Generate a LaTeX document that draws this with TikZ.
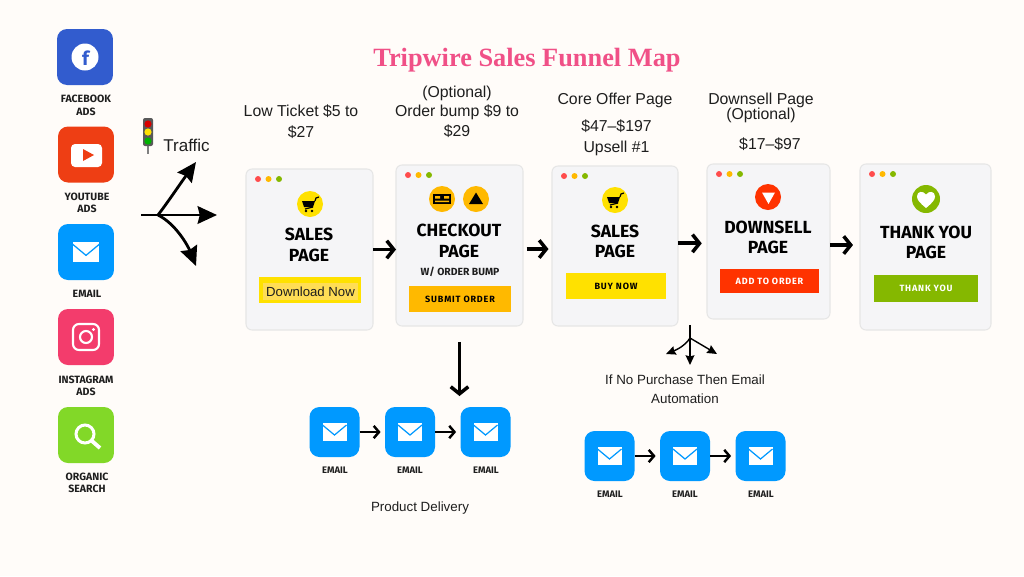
\documentclass[tikz,border=0pt]{standalone}
\usepackage{fontspec}
\usetikzlibrary{arrows.meta}
\setmainfont{Liberation Sans}
\newfontfamily\headfont{Fira Sans}
\newfontfamily\btnfont[LetterSpace=9]{Fira Sans}
\newfontfamily\titlefont{Liberation Serif}
\definecolor{paper}{RGB}{255,252,249}
\definecolor{cardgray}{RGB}{245,245,247}
\definecolor{cardline}{RGB}{230,230,230}
\definecolor{funnelpink}{RGB}{240,80,135}
\definecolor{fbblue}{RGB}{50,92,206}
\definecolor{ytred}{RGB}{238,62,20}
\definecolor{mailblue}{RGB}{0,153,255}
\definecolor{igpink}{RGB}{243,60,108}
\definecolor{searchgreen}{RGB}{130,216,40}
\definecolor{buyyellow}{RGB}{255,225,0}
\definecolor{softyellow}{RGB}{255,221,85}
\definecolor{bumporange}{RGB}{255,185,0}
\definecolor{addred}{RGB}{255,51,0}
\definecolor{thankgreen}{RGB}{133,184,0}
\definecolor{inkblack}{RGB}{30,30,30}
\tikzset{
  tile/.style={rectangle,rounded corners=0.2cm,minimum size=1cm,inner sep=0,outer sep=0},
  bigtile/.style={tile,minimum size=1.12cm},
  tag/.style={font=\headfont\bfseries\fontsize{6}{7.2}\selectfont,align=center,text=inkblack,inner sep=0},
  smalltag/.style={tag,font=\headfont\bfseries\fontsize{5.4}{6}\selectfont},
  card/.style={draw=cardline,line width=0.6pt,fill=cardgray,rectangle,rounded corners=0.12cm,inner sep=0,outer sep=0},
  cardtitle/.style={font=\headfont\bfseries\fontsize{10}{11.6}\selectfont,align=center,text=black,inner sep=0},
  btn/.style={rectangle,inner sep=0,outer sep=0,font=\btnfont\bfseries\fontsize{5.15}{6}\selectfont},
  note/.style={font=\fontsize{9}{12}\selectfont,align=center,text=inkblack,inner sep=0},
  smallnote/.style={font=\fontsize{7.6}{10.8}\selectfont,align=center,text=inkblack,inner sep=0},
  badge/.style={circle,minimum size=0.52cm,inner sep=0,outer sep=0},
  flowarrow/.style={line width=2.2pt,-{Straight Barb[length=4pt,width=10pt,line width=2pt]}},
  mailarrow/.style={line width=1.5pt,black,-{Straight Barb[length=3pt,width=7pt,line width=1.4pt]}},
  forkarrow/.style={line width=1.6pt,black,-{Stealth[length=11pt,width=10pt,inset=1.2pt]}},
  thinfork/.style={line width=0.8pt,black,-{Stealth[length=5.5pt,width=5pt,inset=0.6pt]}},
  windowdots/.pic={
    \fill[red!70!white] (12,10) circle (3);
    \fill[bumporange] (22.5,10) circle (3);
    \fill[thankgreen] (33,10) circle (3);
  },
  mailglyph/.pic={
    \fill[white] (-12,-9) rectangle (12,9);
    \draw[mailblue,line width=0.7pt] (-12,-7) -- (0,3) -- (12,-7);
  },
  cartglyph/.pic={
    \fill[black] (-8,-3) -- (5,-3) -- (3,3) -- (-6,3) -- cycle;
    \draw[black,line width=0.7pt] (3,3) -- (-5,5) (5,-3) -- (6,-6) -- (9,-7);
    \fill[black] (-4,7) circle (1.4) (2,7) circle (1.4);
  },
}
\begin{document}
\begin{tikzpicture}[x=0.02cm,y=-0.02cm]
\useasboundingbox (0,0) rectangle (1024,576);
\fill[paper] (0,0) rectangle (1024,576);
\node[inner sep=0,font=\titlefont\bfseries\fontsize{15}{18}\selectfont,text=funnelpink] (title) at (527,60) {Tripwire Sales Funnel Map};

% traffic sources
\node[bigtile,fill=fbblue] (facebook) at (85,57) {};
\fill[white] (facebook) circle (13.5);
\node[inner sep=0,font=\headfont\bfseries\fontsize{11}{12}\selectfont,text=fbblue] (fbmark) at (85.5,58) {f};
\node[tag] (facebooktag) at (86,105.5) {FACEBOOK\\ADS};
\node[bigtile,fill=ytred] (youtube) at (86,154.5) {};
\fill[white,rounded corners=0.08cm] (71,144) rectangle (102,167);
\fill[ytred] (83,149) -- (83,161) -- (94,155) -- cycle;
\node[tag] (youtubetag) at (87,203) {YOUTUBE\\ADS};
\node[bigtile,fill=mailblue] (mailsource) at (86,252) {};
\pic[scale=1.12] at (mailsource) {mailglyph};
\node[tag] (mailtag) at (87,294) {EMAIL};
\node[bigtile,fill=igpink] (instagram) at (86,337) {};
\draw[white,line width=1.2pt,rounded corners=0.12cm] (73,324) rectangle (99,350);
\draw[white,line width=1.2pt] (instagram) circle (6);
\fill[white] (93.5,329.5) circle (1.6);
\node[tag] (instagramtag) at (86,386) {INSTAGRAM\\ADS};
\node[bigtile,fill=searchgreen] (organic) at (86,435) {};
\draw[white,line width=1.7pt] (85,434) circle (9);
\draw[white,line width=2.2pt] (92,441) -- (100,448);
\node[tag] (organictag) at (87,483) {ORGANIC\\SEARCH};

% traffic light
\draw[gray,line width=1pt] (148,140) -- (148,154);
\fill[gray!70!black,rounded corners=0.04cm] (143,118) rectangle (153,146);
\fill[red!85!black] (148,124) circle (3.6);
\fill[yellow!85!orange] (148,132) circle (3.6);
\fill[green!70!black] (148,141) circle (3.6);
\node[note,font=\fontsize{9.7}{12}\selectfont,anchor=west] (traffic) at (163,145) {Traffic};
\coordinate (forkstart) at (141,215);
\coordinate (forkroot) at (158,215);
\coordinate (forkup) at (196,162);
\coordinate (forkmid) at (217,215);
\coordinate (forkdown) at (196,266);
\draw[line width=1.6pt,black] (forkstart) -- (forkroot);
\draw[forkarrow] (forkroot) .. controls (168,202) and (180,184) .. (forkup);
\draw[forkarrow] (forkroot) -- (forkmid);
\draw[forkarrow] (forkroot) .. controls (176,224) and (188,246) .. (forkdown);

% pages
\node[card,minimum width=2.54cm,minimum height=3.22cm] (page1) at (309.5,249.5) {};
\pic at (page1.north west) {windowdots};
\node[badge,fill=buyyellow] (cart1) at (310,204) {};
\pic at (cart1) {cartglyph};
\node[cardtitle] (title1) at (309,245) {SALES\\PAGE};
\node[btn,fill=buyyellow,minimum width=2.04cm,minimum height=0.52cm] (button1) at (310,290) {};
\node[rectangle,inner sep=0,fill=softyellow,minimum width=1.9cm,minimum height=0.34cm,font=\fontsize{7.5}{10}\selectfont,text=inkblack] (download) at (310.5,291.5) {Download Now};

\node[card,minimum width=2.54cm,minimum height=3.22cm] (page2) at (459.5,245.5) {};
\pic at (page2.north west) {windowdots};
\node[badge,fill=bumporange] (bumpcard) at (442,199) {};
\fill[black] (433,194) rectangle (451,204);
\fill[bumporange] (435,196) rectangle (440,198.5) (444,196) rectangle (449,198.5) (435,200.5) rectangle (449,202);
\node[badge,fill=bumporange] (bumptri) at (476,199) {};
\fill[black] (476,192.5) -- (483,204) -- (469,204) -- cycle;
\node[cardtitle] (title2) at (459,241) {CHECKOUT\\PAGE};
\node[tag,font=\headfont\bfseries\fontsize{5.9}{7}\selectfont] (bump) at (460,272) {W/ ORDER BUMP};
\node[btn,fill=bumporange,text=black,minimum width=2.04cm,minimum height=0.52cm] (button2) at (460,299) {SUBMIT ORDER};

\node[card,minimum width=2.52cm,minimum height=3.2cm] (page3) at (615,246) {};
\pic at (page3.north west) {windowdots};
\node[badge,fill=buyyellow] (cart3) at (615,200) {};
\pic at (cart3) {cartglyph};
\node[cardtitle] (title3) at (615,241.5) {SALES\\PAGE};
\node[btn,fill=buyyellow,text=black,minimum width=2cm,minimum height=0.52cm] (button3) at (616,286) {BUY NOW};

\node[card,minimum width=2.46cm,minimum height=3.1cm] (page4) at (768.5,241.5) {};
\pic at (page4.north west) {windowdots};
\node[badge,fill=addred] (downbadge) at (768,197) {};
\fill[white] (762,192.5) -- (775,192.5) -- (768.5,204) -- cycle;
\node[cardtitle] (title4) at (768,237.5) {DOWNSELL\\PAGE};
\node[btn,fill=addred,text=white,minimum width=1.98cm,minimum height=0.48cm] (button4) at (769.5,281) {ADD TO ORDER};

\node[card,minimum width=2.62cm,minimum height=3.32cm] (page5) at (925.5,247) {};
\pic at (page5.north west) {windowdots};
\node[badge,fill=thankgreen,minimum size=0.56cm] (heartbadge) at (926,199) {};
\fill[white] (926,208) .. controls (920,203) and (917,200) .. (917,196.5) .. controls (917,191) and (923,190.5) .. (926,194.5) .. controls (929,190.5) and (935,191) .. (935,196.5) .. controls (935,200) and (932,203) .. (926,208);
\node[cardtitle] (title5) at (926,242.5) {THANK YOU\\PAGE};
\node[btn,fill=thankgreen,text=white,minimum width=2.08cm,minimum height=0.54cm] (button5) at (926,288.5) {THANK YOU};

\draw[flowarrow] (page1.east) -- (page1.east -| page2.west);
\draw[flowarrow,shorten >=2pt,shorten <=2pt] ([yshift=-2pt]page2.east) -- ([yshift=-2pt]page2.east -| page3.west);
\draw[flowarrow,shorten >=3pt] ([yshift=1.5pt]page3.east) -- ([yshift=1.5pt]page3.east -| page4.west);
\draw[flowarrow,shorten >=4pt] ([yshift=-2pt]page4.east) -- ([yshift=-2pt]page4.east -| page5.west);

% price notes
\node[note] (price1) at (301,121.5) {Low Ticket \$5 to\\\$27};
\node[note,font=\fontsize{9}{11.2}\selectfont] (price2) at (457,111.5) {(Optional)\\Order bump \$9 to\\\$29};
\node[note] (price3) at (615,100) {Core Offer Page};
\node[note] (price3b) at (616.5,138) {\$47--\$197\\Upsell \#1};
\node[note,font=\fontsize{9}{8.6}\selectfont] (price4) at (761,107.5) {Downsell Page\\(Optional)};
\node[note] (price4b) at (770,144) {\$17--\$97};

% delivery emails
\coordinate (dropend) at (459.5,396);
\draw[flowarrow,shorten <=9pt] (page2.south) -- (dropend);
\node[tile,fill=mailblue] (maila) at (334.5,432) {};
\pic at (maila) {mailglyph};
\node[tile,fill=mailblue] (mailb) at (410,432) {};
\pic at (mailb) {mailglyph};
\node[tile,fill=mailblue] (mailc) at (485.5,432) {};
\pic at (mailc) {mailglyph};
\draw[mailarrow,shorten >=2.5pt] (maila) -- (mailb);
\draw[mailarrow,shorten >=2.5pt] (mailb) -- (mailc);
\node[smalltag] (taga) at (335,470) {EMAIL};
\node[smalltag] (tagb) at (410,470) {EMAIL};
\node[smalltag] (tagc) at (486,470) {EMAIL};
\node[smallnote] (delivery) at (420,508) {Product Delivery};

% no purchase emails
\coordinate (smallroot) at (690,338);
\coordinate (smallleft) at (666,354);
\coordinate (smallmid) at (690,365);
\coordinate (smallright) at (717,354);
\draw[line width=0.8pt,black] (page4.south -| smallroot) ++(0,6) -- (smallroot);
\draw[thinfork] (smallroot) .. controls (685,346) and (676,350) .. (smallleft);
\draw[thinfork] (smallroot) -- (smallmid);
\draw[thinfork] (smallroot) -- (smallright);
\node[smallnote] (nopurchase) at (685,389.5) {If No Purchase Then Email\\Automation};
\node[tile,fill=mailblue] (maild) at (609.5,456) {};
\pic at (maild) {mailglyph};
\node[tile,fill=mailblue] (maile) at (685,456) {};
\pic at (maile) {mailglyph};
\node[tile,fill=mailblue] (mailf) at (760.5,456) {};
\pic at (mailf) {mailglyph};
\draw[mailarrow,shorten >=2.5pt] (maild) -- (maile);
\draw[mailarrow,shorten >=2.5pt] (maile) -- (mailf);
\node[smalltag] (tagd) at (610,494) {EMAIL};
\node[smalltag] (tage) at (685,494) {EMAIL};
\node[smalltag] (tagf) at (761,494) {EMAIL};
\end{tikzpicture}
\end{document}
